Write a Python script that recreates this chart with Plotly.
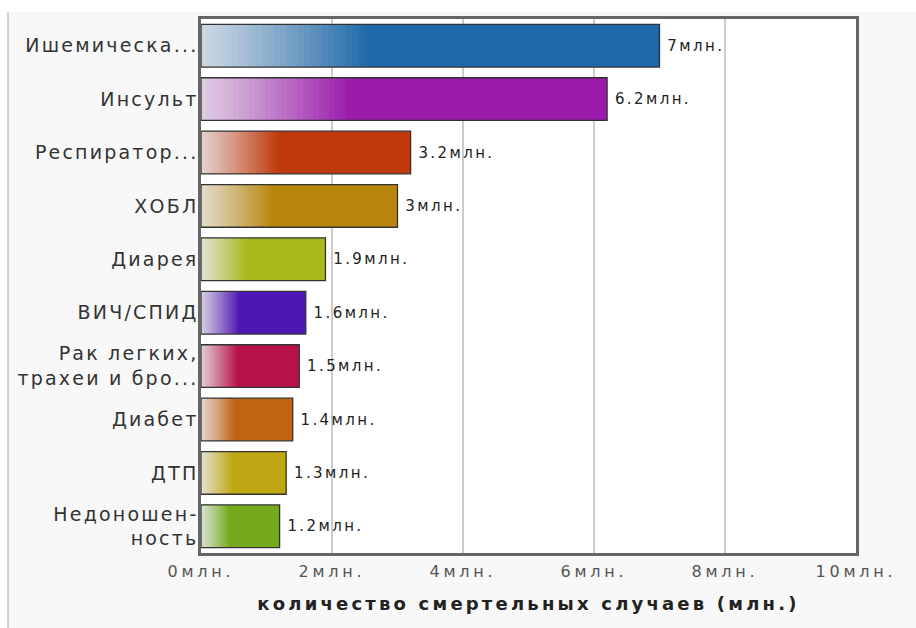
import plotly.graph_objects as go

# ---------------- data ----------------
categories = [
    "Ишемическа...",
    "Инсульт",
    "Респиратор...",
    "ХОБЛ",
    "Диарея",
    "ВИЧ/СПИД",
    "Рак легких,<br>трахеи и бро...",
    "Диабет",
    "ДТП",
    "Недоношен-<br>ность",
]
values = [7.0, 6.2, 3.2, 3.0, 1.9, 1.6, 1.5, 1.4, 1.3, 1.2]
value_labels = ["7млн.", "6.2млн.", "3.2млн.", "3млн.", "1.9млн.",
                "1.6млн.", "1.5млн.", "1.4млн.", "1.3млн.", "1.2млн."]
bar_colors = ["#1c68a8", "#9a1aaa", "#c0390c", "#b8860c", "#a8b81c",
              "#4e16b2", "#b8124a", "#c06414", "#c0a814", "#74aa1c"]
tick_values = [0, 2, 4, 6, 8, 10]
tick_labels = ["0млн.", "2млн.", "4млн.", "6млн.", "8млн.", "10млн."]
axis_title = "количество смертельных случаев (млн.)"

# ---------------- helpers ----------------
def spaced(text, ls=2.5):
    return "<br>".join(
        f"<span style='letter-spacing:{ls}px'>{part}</span>" for part in text.split("<br>")
    )

def hex2rgb(h):
    h = h.lstrip("#")
    return tuple(int(h[i:i + 2], 16) for i in (0, 2, 4))

def mix(c1, c2, t):
    return "rgb({},{},{})".format(*[round(a + (b - a) * t) for a, b in zip(c1, c2)])

W, H = 916, 628
L, R, T, B = 201, 60, 19, 75
pw, ph = W - L - R, H - T - B

fig = go.Figure()

# base full-colour bars
fig.add_trace(go.Bar(
    y=categories, x=values, orientation="h",
    marker=dict(color=bar_colors, line=dict(width=0)),
    hoverinfo="skip", showlegend=False,
))

# gradient overlay (light at left -> full colour), covering the first part of each bar
N = 28
G = 0.37
light = (234, 234, 236)
for k in range(N):
    frac = G * (N - k) / N
    t = (N - k - 0.5) / N
    cols = []
    for c in bar_colors:
        rgb = hex2rgb(c)
        left = tuple(0.86 * l + 0.14 * r for l, r in zip(light, rgb))
        cols.append(mix(left, rgb, t ** 1.1))
    fig.add_trace(go.Bar(
        y=categories, x=[v * frac for v in values], orientation="h",
        marker=dict(color=cols, line=dict(width=0)),
        hoverinfo="skip", showlegend=False,
    ))

# outline + value labels
fig.add_trace(go.Bar(
    y=categories, x=values, orientation="h",
    marker=dict(color="rgba(0,0,0,0)", line=dict(color="#333333", width=1.3)),
    text=[spaced(s, 2.4) for s in value_labels],
    texttemplate="&nbsp;%{text}",
    textposition="outside",
    textfont=dict(family="DejaVu Sans", size=15, color="#222222"),
    cliponaxis=False,
    hoverinfo="skip", showlegend=False,
))

px2x = lambda px: (px - L) / pw
px2y = lambda py: (H - B - py) / ph

fig.update_layout(
    width=W, height=H,
    margin=dict(l=L, r=R, t=T, b=B),
    barmode="overlay",
    bargap=0.2,
    paper_bgcolor="#f8f8f8",
    plot_bgcolor="#ffffff",
    font=dict(family="DejaVu Sans", color="#333333"),
    xaxis=dict(
        range=[0, 10],
        tickvals=tick_values,
        ticktext=[spaced(s, 3.8) for s in tick_labels],
        tickfont=dict(size=16, color="#555555"),
        showgrid=True, gridcolor="#cccccc", gridwidth=1.5,
        zeroline=False,
        showline=True, linecolor="#666666", linewidth=2.5, mirror=True,
        ticks="outside", ticklen=2, tickcolor="rgba(0,0,0,0)",
        title=dict(text=spaced(axis_title, 3.2),
                   font=dict(size=18, color="#222222", weight="bold"),
                   standoff=18),
        fixedrange=True,
    ),
    yaxis=dict(
        autorange="reversed",
        tickvals=categories,
        ticktext=[spaced(c, 2.2) for c in categories],
        tickfont=dict(size=19, color="#333333"),
        showgrid=False,
        showline=True, linecolor="#666666", linewidth=2.5, mirror=True,
        ticks="", ticklabelstandoff=-4,
        fixedrange=True,
    ),
    shapes=[
        dict(type="rect", xref="paper", yref="paper", layer="below",
             x0=px2x(-5), x1=px2x(W + 5), y0=px2y(12), y1=px2y(-5),
             fillcolor="#ffffff", line=dict(width=0)),
        dict(type="rect", xref="paper", yref="paper", layer="below",
             x0=px2x(-5), x1=px2x(7.5), y0=px2y(H + 5), y1=px2y(-5),
             fillcolor="#ffffff", line=dict(width=0)),
        dict(type="line", xref="paper", yref="paper", layer="below",
             x0=px2x(8), x1=px2x(8), y0=px2y(H + 5), y1=px2y(12),
             line=dict(color="#c4c4c4", width=1.5)),
    ],
)

fig.write_html("out.html")
